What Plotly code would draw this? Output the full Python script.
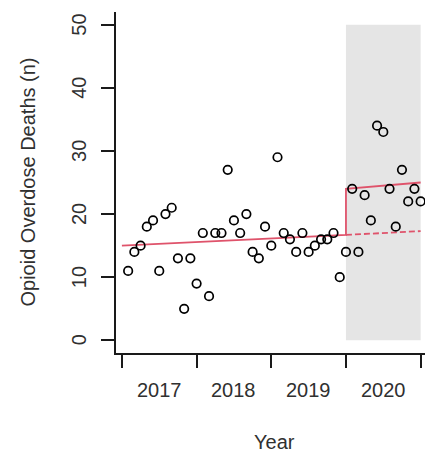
import plotly.graph_objects as go

# month index (1 = Jan 2017 ... 48 = Dec 2020)
months = list(range(1, 49))
deaths = [11, 14, 15, 18, 19, 11, 20, 21, 13, 5, 13, 9,
          17, 7, 17, 17, 27, 19, 17, 20, 14, 13, 18, 15,
          29, 17, 16, 14, 17, 14, 15, 16, 16, 17, 10, 14,
          24, 14, 23, 19, 34, 33, 24, 18, 27, 22, 24, 22]

# fitted segmented regression
fit_x = [0, 36, 36, 48]
fit_y = [15.0, 16.7, 24.0, 25.0]
cf_x = [36, 48]
cf_y = [16.7, 17.3]

# shaded intervention period
shade_x = [36, 48]
shade_y = [0, 50]

year_ticks = [0, 12, 24, 36, 48]
year_label_pos = [6, 18, 30, 42]
year_labels = ["2017", "2018", "2019", "2020"]
y_ticks = [0, 10, 20, 30, 40, 50]

RED = "#DF536B"
INK = "#303030"
FONT = "Liberation Sans, Arial, Helvetica, sans-serif"

fig = go.Figure()

fig.add_shape(type="rect", xref="x", yref="y",
              x0=shade_x[0], x1=shade_x[1], y0=shade_y[0], y1=shade_y[1],
              fillcolor="#E5E5E5", line=dict(width=0), layer="below")

fig.add_trace(go.Scatter(x=fit_x, y=fit_y, mode="lines",
                         line=dict(color=RED, width=1.8), hoverinfo="skip"))
fig.add_trace(go.Scatter(x=cf_x, y=cf_y, mode="lines",
                         line=dict(color=RED, width=1.8, dash="6px,3px"),
                         hoverinfo="skip"))
fig.add_trace(go.Scatter(x=months, y=deaths, mode="markers",
                         marker=dict(symbol="circle-open", size=8.5,
                                     color="black", line=dict(width=1.7, color="black"))))

annotations = []
for pos, lab in zip(year_label_pos, year_labels):
    annotations.append(dict(x=pos, xref="x", y=0, yref="paper", yshift=-37,
                            text=lab, showarrow=False, xanchor="center", yanchor="middle",
                            font=dict(size=20, color=INK, family=FONT)))
for v in y_ticks:
    annotations.append(dict(x=0, xref="paper", xshift=-37, y=v, yref="y",
                            text=str(v), showarrow=False, textangle=-90,
                            xanchor="center", yanchor="middle",
                            font=dict(size=20, color=INK, family=FONT)))
annotations.append(dict(x=0, xref="paper", xshift=-89, y=0.5, yref="paper",
                        text="Opioid Overdose Deaths (n)", showarrow=False, textangle=-90,
                        xanchor="center", yanchor="middle",
                        font=dict(size=20, color=INK, family=FONT)))
annotations.append(dict(x=24.5, xref="x", y=0, yref="paper", yshift=-89,
                        text="Year", showarrow=False, xanchor="center", yanchor="middle",
                        font=dict(size=20, color=INK, family=FONT)))

fig.update_layout(
    width=425, height=454, autosize=False,
    margin=dict(l=116, r=0, t=12, b=101, pad=0),
    paper_bgcolor="white", plot_bgcolor="white",
    showlegend=False,
    font=dict(family=FONT, color=INK),
    annotations=annotations,
    xaxis=dict(range=[-0.95, 48.7], showgrid=False, zeroline=False,
               showline=True, linecolor="#1a1a1a", linewidth=1.8,
               tickmode="array", tickvals=year_ticks, showticklabels=False,
               ticks="outside", ticklen=13, tickwidth=1.8, tickcolor="#1a1a1a"),
    yaxis=dict(range=[-2, 52], showgrid=False, zeroline=False,
               showline=True, linecolor="#1a1a1a", linewidth=1.8,
               tickmode="array", tickvals=y_ticks, showticklabels=False,
               ticks="outside", ticklen=13, tickwidth=1.8, tickcolor="#1a1a1a"),
)

fig.write_html("out.html")
